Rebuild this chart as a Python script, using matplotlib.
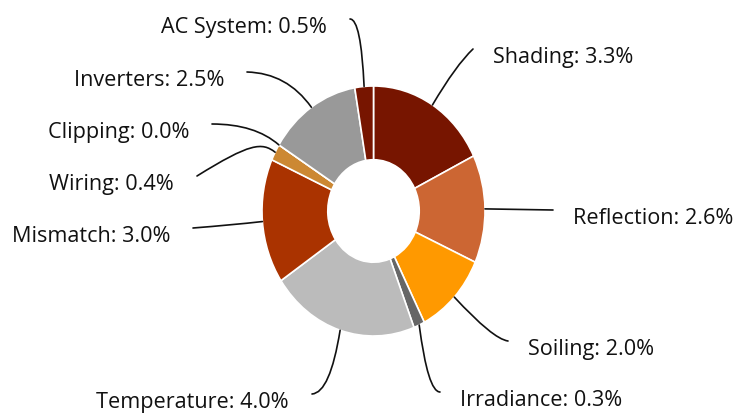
import numpy as np
import matplotlib
matplotlib.use("Agg")
import matplotlib.pyplot as plt
from matplotlib.path import Path
from matplotlib.patches import PathPatch

# Loss breakdown (% of energy)
categories = ["Shading", "Reflection", "Soiling", "Irradiance", "Temperature",
              "Mismatch", "Wiring", "Clipping", "Inverters", "AC System"]
losses = [3.3, 2.6, 2.0, 0.3, 4.0, 3.0, 0.4, 0.0, 2.5, 0.5]
colors = ["#771500", "#cc6633", "#ff9900", "#666666", "#bbbbbb",
          "#aa3300", "#cc8833", "#dd9944", "#999999", "#771500"]

# Canvas layout in pixels (y grows downward)
W, H = 740, 414
CX, CY = 373.5, 212.0     # donut centre
RX, RY = 111.5, 125.0     # outer radii of the (slightly tall) donut

# Leader-line end points and bend (control) points, pixel coordinates
label_ends = [(473, 50), (553, 211), (508, 342), (440, 393), (312, 395),
              (193, 229), (197, 177), (212, 125), (247, 73), (350, 20)]
label_bends = [[(456, 66)], [], [(493, 340)], [(428, 393)], [(330, 394)],
               [(232, 226)], [(262, 143), (250, 144)], [(255, 125)],
               [(287, 74)], [(361, 20)]]


def to_data(px, py):
    return (px - CX) / RX, (CY - py) / RY


fig = plt.figure(figsize=(W / 100, H / 100), dpi=100)
ax = fig.add_axes([0, 0, 1, 1])

wedges, _ = ax.pie(
    losses, colors=colors, startangle=90, counterclock=False, radius=1.0,
    wedgeprops=dict(width=0.59, edgecolor="white", linewidth=1.2),
)

ax.set_aspect("auto")
ax.set_xlim(-CX / RX, (W - CX) / RX)
ax.set_ylim(-(H - CY) / RY, CY / RY)
ax.axis("off")

for wedge, name, value, end, bends in zip(wedges, categories, losses,
                                          label_ends, label_bends):
    mid = np.deg2rad((wedge.theta1 + wedge.theta2) / 2)
    start = (np.cos(mid) * wedge.r, np.sin(mid) * wedge.r)
    pts = [start] + [to_data(*b) for b in bends] + [to_data(*end)]
    if len(pts) == 2:
        codes = [Path.MOVETO, Path.LINETO]
    elif len(pts) == 3:
        codes = [Path.MOVETO, Path.CURVE3, Path.CURVE3]
    else:
        codes = [Path.MOVETO, Path.CURVE4, Path.CURVE4, Path.CURVE4]
    ax.add_patch(PathPatch(Path(pts, codes), facecolor="none",
                           edgecolor="#111111", linewidth=1.2,
                           capstyle="round"))

    right = end[0] > CX
    tx = end[0] + (20 if right else -23)
    ty = end[1] + 13
    ax.text(*to_data(tx, ty), f"{name}: {value:.1f}%",
            ha="left" if right else "right", va="baseline",
            fontsize=15.6, family="Open Sans", fontweight="medium",
            color="#111111")

fig.savefig("out.png", dpi=100)
